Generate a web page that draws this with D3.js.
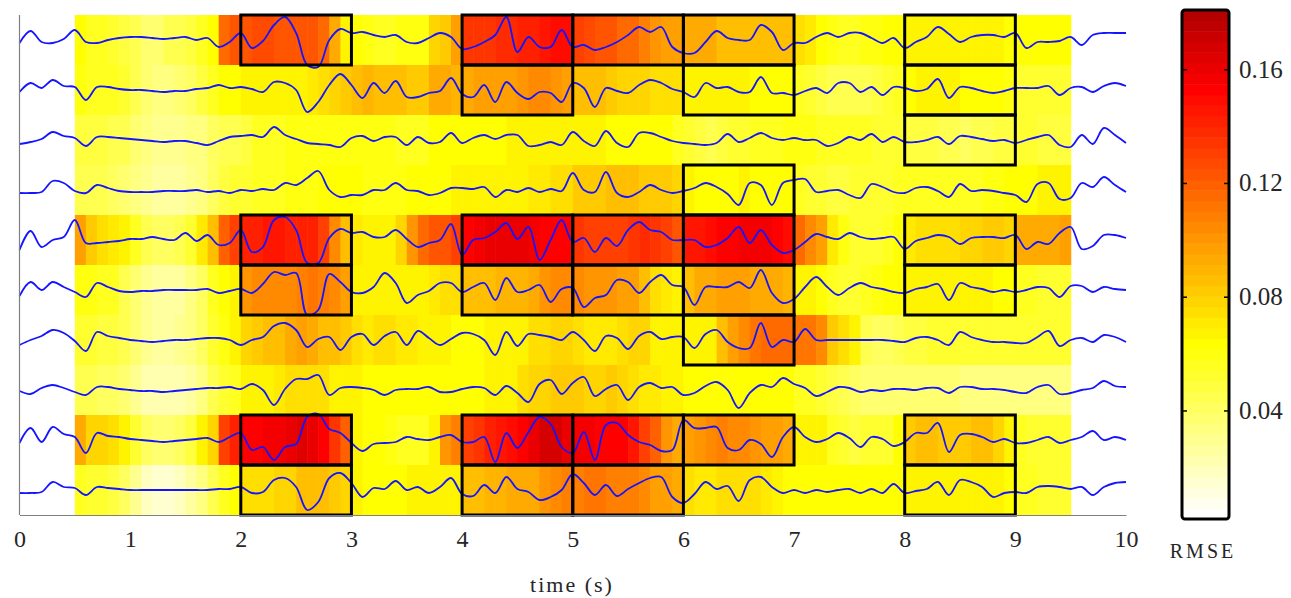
<!DOCTYPE html>
<html>
<head>
<meta charset="utf-8">
<script src="https://cdn.jsdelivr.net/npm/d3@7.9.0/dist/d3.min.js"></script>
<style>
  body { margin: 0; background: #fff; }
</style>
</head>
<body>
<svg id="chart" width="1291" height="598"></svg>
<script>
// ---- data ----
const xTicks = [0, 1, 2, 3, 4, 5, 6, 7, 8, 9, 10];
const cbTicks = [0.04, 0.08, 0.12, 0.16];
const rmseRange = [0.002, 0.181];
const heatStart = 0.5;   // s, first window
const heatStep = 0.1;    // s, window hop
const traceStep = 0.1;   // s, trace sampling

// RMSE per channel (x 0.001), 0.1 s windows from 0.5 s to 9.5 s
const rmse0 = [63,57,55,52,48,44,37,38,44,46,48,57,63,115,123,125,127,127,125,125,123,123,115,92,67,63,60,57,57,60,60,60,
  77,82,96,133,135,135,137,139,141,142,146,149,149,130,127,125,123,117,115,110,101,98,98,92,95,92,87,85,85,85,87,87,85,75,72,65,60,57,57,
  60,60,63,63,66,67,67,67,67,67,66,66,66,64,63,63,63,63,63];
const rmse1 = [60,57,57,55,52,46,37,34,34,37,40,48,55,63,64,66,66,66,66,67,69,72,73,77,82,87,89,87,85,85,83,83,
  95,92,89,95,96,96,98,98,101,104,106,101,96,87,85,85,83,79,77,77,75,73,73,67,69,69,67,66,66,64,63,64,64,55,52,48,46,44,44,
  46,48,52,55,64,66,66,66,66,65,64,64,63,60,53,52,52,52,52];
const rmse2 = [48,48,48,46,44,37,32,29,29,30,32,34,40,44,46,48,55,57,57,60,60,60,61,61,61,61,60,60,60,57,57,57,
  62,63,63,64,64,65,65,66,66,66,66,67,67,67,66,66,65,64,64,64,63,63,57,52,48,46,48,52,53,55,57,57,60,60,60,57,57,57,57,
  55,54,53,52,50,48,48,46,44,42,44,46,48,50,52,52,50,50,50];
const rmse3 = [46,46,44,41,39,34,29,25,25,28,30,34,41,48,52,53,55,57,57,60,60,60,62,63,63,62,61,60,60,61,62,63,
  64,65,66,66,67,67,67,69,69,71,71,73,75,81,82,83,85,85,85,83,83,81,79,66,64,64,64,64,66,65,64,64,64,55,52,52,50,50,52,
  53,53,54,55,57,57,57,57,57,57,57,58,60,62,64,65,66,67,69];
const rmse4 = [98,82,75,72,67,57,46,40,40,44,52,72,87,120,130,140,143,144,144,143,143,140,130,106,87,72,67,66,67,77,101,115,
  123,125,130,152,155,161,162,162,161,158,154,154,152,133,130,130,129,131,133,137,135,130,125,144,146,149,152,154,158,158,155,152,149,115,106,96,72,60,52,
  52,52,55,63,71,73,73,73,75,77,79,81,82,79,92,94,94,94,96];
const rmse5 = [60,60,57,55,46,37,29,25,25,28,32,40,55,64,69,101,104,104,106,106,110,111,110,106,98,69,66,66,67,67,69,69,
  72,73,75,85,87,87,89,89,91,93,101,106,106,104,102,101,101,98,96,87,75,72,69,87,92,95,96,96,96,95,92,92,89,67,66,64,55,52,52,
  57,60,62,64,66,67,67,69,69,67,67,66,64,63,55,55,54,54,54];
const rmse6 = [53,52,50,48,46,37,30,28,28,29,32,40,52,60,66,77,82,85,87,92,96,92,87,85,82,73,72,73,73,72,71,69,
  66,66,65,65,65,66,66,67,69,73,75,77,77,73,71,71,71,73,77,79,69,66,66,66,67,69,87,98,106,113,117,117,115,113,113,106,82,73,69,
  46,41,40,44,48,50,52,52,52,53,53,53,53,53,53,53,53,53,53];
const rmse7 = [44,44,42,41,37,30,23,21,21,23,25,32,44,52,57,66,67,69,71,73,73,75,73,69,67,66,64,64,64,64,64,64,
  64,64,64,64,64,66,66,67,73,77,79,81,81,81,79,79,81,79,75,72,71,67,66,64,64,64,64,64,65,64,63,62,62,57,55,53,48,44,41,
  39,37,37,37,38,38,38,37,37,34,34,34,34,34,34,34,34,34,34];
const rmse8 = [92,79,77,75,67,52,40,37,37,40,48,67,79,130,140,152,154,156,158,162,164,161,152,135,120,66,63,63,60,57,55,55,
  67,101,110,130,133,140,144,149,154,161,169,167,162,158,156,154,154,152,146,130,120,101,95,98,101,106,110,106,104,101,98,96,95,69,67,66,55,52,50,
  52,52,53,63,83,85,85,83,83,83,85,87,79,67,55,53,52,52,52];
const rmse9 = [55,53,52,48,40,29,17,14,14,17,25,34,46,57,64,73,75,75,77,79,85,87,87,82,77,66,65,65,65,65,66,66,
  67,67,69,85,87,89,91,92,93,95,101,106,108,110,111,111,110,110,108,104,98,96,95,73,71,71,73,75,75,73,71,66,64,64,64,64,64,63,63,
  62,62,63,64,66,66,67,67,67,66,66,66,66,64,55,55,54,54,54];
const rmse = [rmse0, rmse1, rmse2, rmse3, rmse4, rmse5, rmse6, rmse7, rmse8, rmse9];

// EEG channels, 0.1 s samples from 0 to 10 s (arbitrary units)
const eeg0 = [-3,9,-2,-3,1,10,-2,-3,0,2,3,3,2,1,2,3,0,2,-7,-2,7,-8,-1,15,23,7,-25,-27,0,11,7,8,5,3,5,-2,-3,2,
  7,3,-9,-7,-2,5,23,-12,3,-7,-7,10,-7,-5,-10,-7,-2,5,13,8,13,-7,-13,-13,-2,9,2,0,0,15,8,-10,-3,-3,3,7,3,7,
  7,2,-3,2,-8,-2,3,13,6,-2,3,5,5,3,7,-8,-2,-2,-1,3,-5,5,7,7,7];
const eeg1 = [-2,7,2,10,4,3,-10,3,3,1,0,0,-1,-2,-1,-1,1,2,5,2,3,1,-2,8,7,0,-22,-12,5,16,5,-8,7,-3,9,-7,-7,-3,
  -1,12,-4,-7,5,-12,8,-3,-9,-2,-3,-12,7,2,-17,2,-1,-3,5,10,7,1,-2,-7,7,2,3,-2,-2,13,-3,-3,-5,-1,2,-3,7,7,
  -2,3,-5,3,2,-1,1,11,-8,3,2,-1,-3,-1,2,2,2,4,-5,2,3,-2,4,7,4];
const eeg2 = [-4,-2,1,8,4,2,-6,3,3,2,1,0,-1,-2,-1,-1,-3,-5,-1,3,4,5,3,13,5,1,-3,-4,-5,-7,2,4,-1,3,3,-5,3,-3,
  -2,7,-3,2,5,1,5,5,-6,-5,-2,-5,8,-1,-6,9,-3,-7,7,7,3,-1,-3,-4,-5,-3,6,-2,2,7,2,0,2,0,0,-6,-3,3,
  0,6,-2,3,-2,-2,0,3,-4,4,3,1,-1,0,-3,0,3,5,-5,-7,5,-4,12,5,-3];
const eeg3 = [-3,-3,-2,9,7,-1,-3,5,2,-1,-2,-2,-2,-1,-1,-1,0,-2,-1,-3,0,-1,1,0,7,5,12,19,0,-7,-5,-5,0,0,7,0,-1,-5,
  -3,2,2,1,3,-7,0,-2,2,-2,1,-1,17,0,-2,18,-3,-7,-2,5,0,-3,-1,2,7,3,-4,-15,7,5,-15,7,10,11,-2,-1,0,-5,
  -8,6,3,-2,-3,2,3,-1,-7,6,-1,0,-1,-3,-5,-12,6,7,-9,-8,7,3,13,5,-2];
const eeg4 = [-10,9,-7,0,3,20,-3,-3,-2,-1,1,1,3,1,0,7,-1,5,-5,-3,10,-12,-7,20,23,10,-23,-23,2,11,7,8,3,3,10,1,-7,-3,
  0,16,-15,0,2,8,17,1,13,-20,0,20,-2,2,-12,2,-6,10,18,10,8,0,0,0,-7,-5,2,13,-3,10,-5,-13,-10,-2,6,3,1,7,
  3,1,2,3,-9,-1,2,5,3,-4,2,3,3,2,5,-9,-2,-4,7,13,-9,-6,5,5,2];
const eeg5 = [-6,8,0,8,3,-2,-7,7,3,-1,-2,-1,-1,0,0,0,0,1,-3,-1,1,-3,6,18,15,17,-25,-20,16,8,-2,-3,3,17,7,-13,-5,-1,
  7,7,-2,3,7,-10,12,-2,0,5,-12,1,2,-17,-8,-5,10,8,-3,8,15,5,3,-15,3,3,3,8,2,20,-3,-13,-9,3,13,3,-5,2,
  7,3,1,-2,-3,1,3,6,-10,7,3,1,-2,0,-2,0,3,2,-7,4,4,-2,3,1,0];
const eeg6 = [-5,0,4,10,7,-1,-11,8,4,2,0,-1,-2,-1,0,0,1,2,2,0,-5,0,3,14,17,10,-7,1,3,-10,3,6,-5,4,8,-5,9,2,
  -5,1,7,6,0,-15,8,-6,6,5,3,0,8,0,-11,4,2,-9,4,8,1,3,3,-8,6,10,-2,-8,-8,17,-7,0,-2,11,0,0,0,0,
  0,0,0,-1,-2,2,3,0,-5,8,3,0,-2,-2,-3,-3,3,9,-6,0,2,-2,5,3,-2];
const eeg7 = [-1,-4,2,5,2,-2,-5,3,3,1,0,-1,-1,-2,-1,0,1,2,2,3,1,6,0,-15,1,11,11,15,-5,2,3,2,0,-5,0,1,1,3,
  -2,-2,1,3,2,-5,4,-3,-12,6,10,-4,7,13,-6,1,5,-10,3,7,2,3,-5,-3,4,8,0,-18,-3,5,3,12,6,2,-6,-2,3,2,
  -2,0,-1,1,1,0,2,2,-3,3,3,1,1,0,-2,-3,3,5,-4,-3,0,2,9,4,3];
const eeg8 = [-3,12,-2,13,6,3,-13,7,4,3,1,0,-1,-2,-1,0,1,2,-2,3,7,-10,-7,-20,-7,-4,23,26,11,7,-3,-11,-4,-3,-2,3,1,0,
  3,5,-2,-2,3,-22,7,-8,8,23,16,-7,-13,8,-20,15,17,5,-2,-5,-11,-10,20,12,12,13,-8,-10,0,-4,-17,3,13,3,-2,1,7,2,
  -7,3,1,-6,-2,7,7,17,-12,5,6,3,-2,1,-3,-3,0,3,-3,0,3,9,0,3,0];
const eeg9 = [-3,-3,-2,8,3,2,-5,3,2,1,0,0,0,0,0,0,0,0,1,1,3,-3,-2,10,12,3,-20,-12,12,17,7,-7,2,1,9,0,3,-3,
  3,12,-4,-6,5,-3,13,1,-2,-10,-7,0,16,7,-5,5,-6,1,7,12,13,-7,-13,-4,8,1,4,-11,10,13,3,-3,0,-3,0,-2,0,1,
  -3,1,-3,6,-3,-1,1,8,-5,10,8,3,-7,-3,-2,-3,3,4,3,1,3,-5,3,7,8];
const eeg = [eeg0, eeg1, eeg2, eeg3, eeg4, eeg5, eeg6, eeg7, eeg8, eeg9];

// flagged windows: [channel, start second]
const boxes = [[0,2],[0,4],[0,5],[0,6],[0,8],
  [1,4],[1,6],[1,8],
  [2,8],
  [3,6],
  [4,2],[4,4],[4,5],[4,6],[4,8],
  [5,2],[5,4],[5,5],[5,6],[5,8],
  [6,6],
  [8,2],[8,4],[8,5],[8,6],[8,8],
  [9,2],[9,4],[9,5],[9,8]];

const serif = '"Liberation Serif", "Times New Roman", Tinos, "DejaVu Serif", "Noto Serif", serif';

// ---- colour map: flipped MATLAB "hot", darkest 16 of 64 dropped ----
function hot(i) {
  const r = i <= 24 ? i / 24 : 1;
  const g = i <= 24 ? 0 : (i <= 48 ? (i - 24) / 24 : 1);
  const b = i <= 48 ? 0 : (i - 48) / 16;
  return d3.rgb(r * 255, g * 255, b * 255).formatHex();
}
const palette = d3.range(64, 16, -1).map(hot);
const color = d3.scaleQuantize().domain(rmseRange).range(palette);

// ---- layout ----
const svg = d3.select('#chart');
const x = d3.scaleLinear().domain([0, 10]).range([19.5, 1126]);
const row = d3.scaleBand().domain(d3.range(10)).range([15, 515]);
const amp = d3.scaleLinear().domain([-10, 10]).range([10, -10]);

// heat map
const cells = [];
rmse.forEach((vals, ch) => vals.forEach((v, i) => cells.push({ ch, t: heatStart + i * heatStep, v: v / 1000 })));
svg.append('g').selectAll('rect')
  .data(cells)
  .join('rect')
  .attr('x', d => x(d.t))
  .attr('y', d => row(d.ch))
  .attr('width', x(heatStep) - x(0) + 0.6)
  .attr('height', row.bandwidth() + 0.6)
  .attr('fill', d => color(d.v));

// traces
const line = d3.line()
  .x((d, i) => x(i * traceStep))
  .curve(d3.curveCatmullRom.alpha(0.5));
svg.append('g').selectAll('path')
  .data(eeg)
  .join('path')
  .attr('d', (vals, ch) => line.y(v => row(ch) + row.bandwidth() / 2 + amp(v))(vals))
  .attr('fill', 'none')
  .attr('stroke', '#1414ff')
  .attr('stroke-width', 1.8)
  .attr('stroke-linejoin', 'round');

// flagged windows
svg.append('g').selectAll('rect')
  .data(boxes)
  .join('rect')
  .attr('x', d => x(d[1]))
  .attr('y', d => row(d[0]))
  .attr('width', x(1) - x(0))
  .attr('height', row.bandwidth())
  .attr('fill', 'none')
  .attr('stroke', '#000')
  .attr('stroke-width', 3);

// axes
svg.append('line')
  .attr('x1', x(0)).attr('x2', x(0))
  .attr('y1', row.range()[0]).attr('y2', row.range()[1])
  .attr('stroke', '#808080').attr('stroke-width', 1.2);

const xAxis = svg.append('g')
  .attr('transform', `translate(0,${row.range()[1]})`)
  .call(d3.axisBottom(x).tickValues(xTicks).tickSize(0).tickPadding(15).tickFormat(d3.format('d')));
xAxis.select('.domain').attr('stroke', '#808080').attr('stroke-width', 1.2);
xAxis.selectAll('text')
  .style('font-family', serif)
  .style('font-size', '24px')
  .attr('fill', '#262626');

svg.append('text')
  .attr('x', 572).attr('y', 592)
  .attr('text-anchor', 'middle')
  .attr('fill', '#262626')
  .style('font-family', serif)
  .style('font-size', '22px')
  .style('letter-spacing', '2px')
  .text('time (s)');

// colour bar
const cbX = 1182, cbW = 47;
const cb = d3.scaleLinear().domain(rmseRange).range([519, 10]);
const cbG = svg.append('g');
cbG.selectAll('rect')
  .data(palette)
  .join('rect')
  .attr('x', cbX)
  .attr('y', c => cb(color.invertExtent(c)[1]))
  .attr('width', cbW)
  .attr('height', c => cb(color.invertExtent(c)[0]) - cb(color.invertExtent(c)[1]) + 0.5)
  .attr('fill', c => c);
cbG.selectAll('line.tl')
  .data(cbTicks)
  .join('line')
  .attr('class', 'tl')
  .attr('x1', cbX).attr('x2', cbX + 5)
  .attr('y1', d => cb(d)).attr('y2', d => cb(d))
  .attr('stroke', '#000').attr('stroke-width', 1.5);
cbG.selectAll('line.tr')
  .data(cbTicks)
  .join('line')
  .attr('class', 'tr')
  .attr('x1', cbX + cbW - 5).attr('x2', cbX + cbW)
  .attr('y1', d => cb(d)).attr('y2', d => cb(d))
  .attr('stroke', '#000').attr('stroke-width', 1.5);
cbG.append('rect')
  .attr('x', cbX).attr('y', 10)
  .attr('width', cbW).attr('height', 509)
  .attr('rx', 3)
  .attr('fill', 'none').attr('stroke', '#000').attr('stroke-width', 3);
cbG.selectAll('text')
  .data(cbTicks)
  .join('text')
  .attr('x', 1239)
  .attr('y', d => cb(d) + 8)
  .attr('fill', '#262626')
  .style('font-family', serif)
  .style('font-size', '25px')
  .text(d => d3.format('.2f')(d));

svg.append('text')
  .attr('x', 1203).attr('y', 558)
  .attr('text-anchor', 'middle')
  .attr('fill', '#262626')
  .style('font-family', serif)
  .style('font-size', '20px')
  .style('letter-spacing', '3px')
  .text('RMSE');
</script>
</body>
</html>
